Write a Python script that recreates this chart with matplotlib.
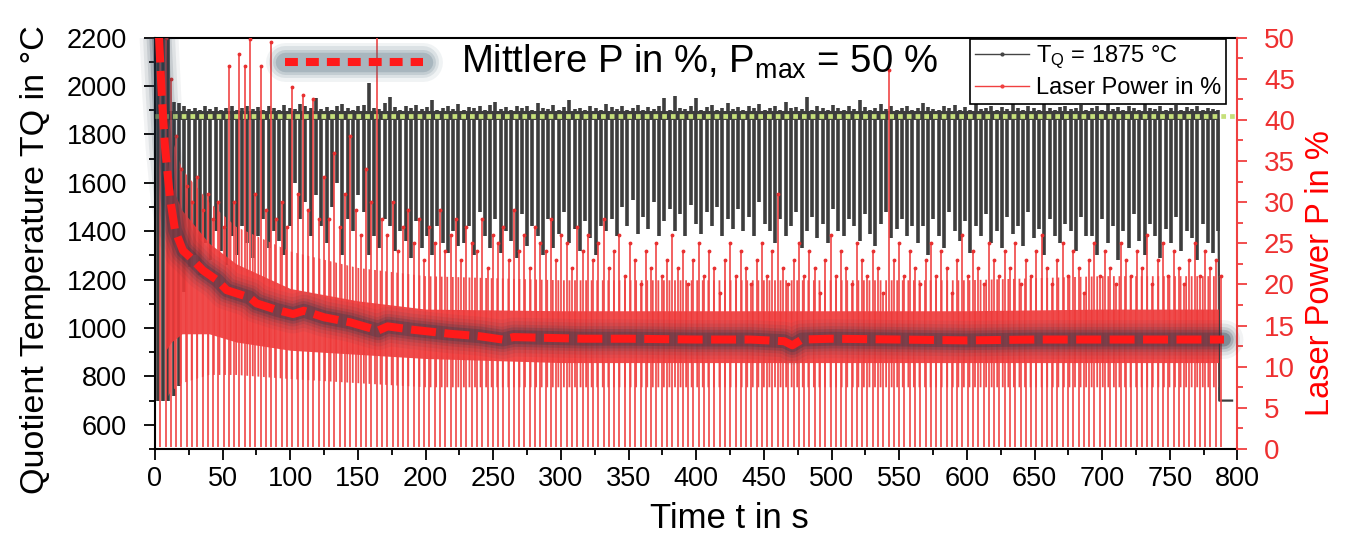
import numpy as np
import matplotlib
matplotlib.use('Agg')
import matplotlib.pyplot as plt
from matplotlib import rcParams
from matplotlib.lines import Line2D
from matplotlib.patches import Rectangle
from matplotlib.ticker import MultipleLocator

rcParams['font.family'] = ['Liberation Sans', 'DejaVu Sans']
rcParams['mathtext.fontset'] = 'custom'
rcParams['mathtext.rm'] = 'Liberation Sans'
rcParams['mathtext.it'] = 'Liberation Sans:italic'
rcParams['hatch.linewidth'] = 1.3

# controller cycle timing (s)
cycle_start = 2.0
cycle_period = 3.9

# per cycle: lowest / highest quotient temperature (degC)
T_trough = [
    700, 700, 700, 720, 760,
    1150, 1250, 1300, 1220, 1350, 1280, 1400, 1320, 1260, 1380, 1300, 1420, 1350, 1290, 1380, 1450,
    1330, 1400, 1360, 1300, 1420,
    1600, 1450, 1520, 1380, 1550, 1420, 1350, 1500, 1600, 1300, 1450, 1400, 1550, 1480, 1300, 1380,
    1330, 1450, 1420, 1320, 1400, 1360, 1290, 1440, 1330, 1380, 1300, 1420, 1350, 1310, 1400, 1340,
    1350, 1420, 1300, 1480, 1380, 1330, 1450, 1310, 1400, 1360, 1290, 1470, 1340, 1420, 1380, 1300,
    1450, 1330, 1390, 1480, 1350, 1410, 1320, 1440, 1370, 1300, 1420,
    1400, 1450, 1380, 1500, 1420, 1530, 1390, 1460, 1410, 1520, 1380, 1440, 1490, 1400, 1470, 1380,
    1510, 1430, 1390, 1480, 1420, 1500, 1380, 1450, 1410, 1490, 1400, 1460, 1380, 1520, 1430,
    1400, 1350, 1450, 1380, 1420, 1480, 1330, 1400, 1460, 1370, 1430, 1350, 1490, 1400, 1380, 1450,
    1420, 1360, 1470, 1390, 1340, 1430, 1480, 1370, 1410, 1450, 1380, 1420,
    1350, 1420, 1300, 1450, 1380, 1330, 1480, 1400, 1360, 1440, 1310, 1420, 1380, 1470, 1350, 1400,
    1330, 1460, 1390, 1420, 1340, 1480, 1370, 1410, 1300, 1450, 1380, 1350, 1430, 1400, 1320, 1460, 1380,
    1380, 1300, 1450, 1350, 1420, 1280, 1400, 1330, 1470, 1360, 1300, 1430, 1380, 1290, 1410, 1350,
    1460, 1320, 1400, 1370, 1280, 1430, 1350, 1310, 1400,
]
T_peak = [
    2300, 2300, 2300, 1935, 1930, 1915, 1905, 1910, 1900, 1915,
    1905, 1912, 1900, 1908, 1915, 1902, 1910, 1918, 1905, 1912,
    1900, 1915, 1908, 1902, 1920, 1910, 1905, 1925, 1915, 1908,
    1950, 1905, 1912, 1900, 1918, 1925, 1908, 1902, 1915, 1920,
    2010, 1910, 1905, 1930, 1955, 1912, 1900, 1915, 1908, 1920,
    1905, 1912, 1940, 1900, 1910, 1918, 1905, 1925, 1902, 1912,
    1908, 1915, 1900, 1920, 1935, 1905, 1912, 1900, 1918, 1908,
    1915, 1902, 1930, 1910, 1905, 1920, 1900, 1912, 1940, 1905,
    1910, 1902, 1918, 1908, 1900, 1925, 1912, 1905, 1915, 1900,
    1908, 1920, 1902, 1912, 1905, 1918, 1950, 1900, 1960, 1910,
    1905, 1915, 1950, 1902, 1912, 1920, 1900, 1908, 1930, 1905,
    1912, 1900, 1918, 1908, 1925, 1902, 1910, 1915, 1900, 1935,
    1908, 1912, 1905, 1955, 1900, 1918, 1910, 1902, 1920, 1908,
    1900, 1915, 1905, 1940, 1912, 1900, 1908, 1925, 1905, 1915,
    1902, 1910, 1918, 1900, 1908, 1930, 1912, 1905, 1900, 1915,
    1908, 1920, 1902, 1912, 1900, 1935, 1905, 1910, 1918, 1900,
    1912, 1905, 1925, 1908, 1900, 1915, 1910, 1902, 1940, 1908,
    1900, 1912, 1918, 1905, 1910, 1920, 1902, 1908, 1915, 1900,
    1930, 1905, 1912, 1900, 1918, 1908, 1902, 1925, 1910, 1905,
    1915, 1900, 1908, 1920, 1902, 1912, 1905, 1918, 1900, 1910,
    1905, 1900,
]
# per cycle: highest laser power (%)
P_top = [
    50, 50, 45, 38, 34, 32, 30, 33, 29, 31,
    28, 30, 27, 46.5, 30, 48, 46.5, 49.8, 31, 46.5,
    29, 49.4, 28, 30, 27, 44, 31, 43, 29, 42.5,
    28, 33, 28, 36, 27, 31, 38, 29, 26, 34,
    30, 51, 28, 26, 30, 24, 27, 29, 25, 28,
    23, 27, 25, 29, 24, 26, 28, 23, 27, 25,
    24, 28, 22, 26, 25, 27, 23, 29, 24, 26,
    22, 27, 25, 24, 28, 23, 26, 25, 22, 27,
    24, 26, 23, 25, 28, 22, 24, 26, 21, 25,
    23, 20, 24, 22, 25, 21, 23, 26, 22, 24,
    20, 23, 25, 21, 24, 22, 19, 23, 25, 21,
    24, 22, 20, 23, 25, 21, 24, 31, 22, 20,
    23, 25, 21, 24, 22, 19, 23, 26, 21, 24,
    22, 20, 25, 23, 21, 24, 22, 19, 46, 23,
    25, 21, 24, 22, 20, 23, 25, 21, 24, 22,
    19, 23, 26, 21, 24, 22, 20, 25, 23, 21,
    24, 22, 25, 20, 23, 21, 24, 26, 22, 20,
    23, 25, 21, 24, 22, 19, 23, 25, 21, 24,
    22, 20, 25, 23, 21, 24, 22, 26, 20, 23,
    25, 21, 24, 22, 20, 23, 25, 21, 24, 22,
    23, 21,
]
P_floor = 0.3

# hold band at the setpoint, setpoint, and the cool-down after the last cycle
T_hold = (1860, 1898)
T_set = 1875
t_end = [786.5, 796]
T_end = [700, 700]

# running mean of the laser power (%)
t_mean = [3, 5, 7.4, 11, 14.8, 20.7, 26, 35.5, 46, 53,
          70, 75, 90, 102, 110, 125, 144, 165, 172, 190,
          218, 240, 257, 265, 316, 350, 400, 440, 465, 471,
          478, 500, 550, 600, 650, 700, 750, 790]
P_mean = [50, 43, 36.7, 30.6, 26.6, 24.1, 23.3, 21.7, 20.5, 19.3,
          18.4, 17.7, 16.9, 16.4, 16.8, 16.0, 15.4, 14.4, 14.9, 14.5,
          14.0, 13.7, 13.3, 13.6, 13.4, 13.4, 13.3, 13.3, 13.1, 12.6,
          13.3, 13.4, 13.3, 13.2, 13.3, 13.3, 13.3, 13.3]

# dense part of the laser power signal (%), core and fringe
t_band = [8, 12, 20, 40, 60, 100, 150, 200, 300, 400, 500, 600, 700, 786]
P_band_hi = [36, 32, 29, 25, 22.5, 19.5, 18, 17, 16.8, 16.8, 16.8, 16.8, 17, 17]
P_band_lo = [12, 13, 14, 14, 13, 12, 11.5, 11, 10.5, 10.5, 10.5, 10.5, 10.5, 10.5]
P_fringe_hi = [42, 38, 34, 30, 27, 24, 22, 21, 20.5, 20.5, 20.5, 20.5, 21, 21]
P_fringe_lo = [6, 7, 8, 9, 9, 8.5, 8, 7.5, 7.5, 7.5, 7.5, 7.5, 7.5, 7.5]

black_c = '#3d3d3d'
red_c = '#f04545'
glow_c = '#2a3a4c'

fig = plt.figure(figsize=(13.72, 5.37), dpi=100)
ax = fig.add_axes([0.11297, 0.16387, 0.78899, 0.76629])
ax2 = ax.twinx()

n = min(len(T_trough), len(T_peak), len(P_top))
t_cyc = cycle_start + cycle_period * np.arange(n)
t_red = t_cyc + cycle_period / 2

# temperature
ax.fill_between(t_cyc, T_hold[0], T_hold[1], color=black_c, lw=0, zorder=2)
ax.vlines(t_cyc, T_trough[:n], T_peak[:n], color=black_c, lw=2.6, zorder=2)
ax.plot(np.r_[t_cyc[-1], t_end], np.r_[T_hold[0], T_end], color=black_c, lw=1.6, zorder=2)
ax.axhline(T_set, color='#c6e07a', lw=3.4, dashes=(1, 0.85), zorder=3)

# laser power
ax2.vlines(t_red, P_floor, P_top[:n], color=red_c, lw=1.2, zorder=2)
ax2.plot(t_red, P_top[:n], '.', ms=3.5, color='#e83030', zorder=2)
ax2.fill_between(t_band, P_fringe_lo, P_fringe_hi, facecolor='none', edgecolor='#f05050',
                 hatch='|||', lw=0, zorder=1)
ax2.fill_between(t_band, P_band_lo, P_band_hi, color='#ee3838', alpha=0.9, lw=0, zorder=1)

# mean power with glow, allowed to spill sideways past the spines but not over the top
side_clip = Rectangle((-0.04, 0), 1.08, 1.0, transform=ax2.transAxes, visible=False)
ax2.add_patch(side_clip)
mean_lines = []
for w, a in [(28, 0.06), (23, 0.09), (18, 0.13), (14, 0.2), (10, 0.3)]:
    mean_lines += ax2.plot(t_mean, P_mean, color=glow_c, lw=w, alpha=a, solid_capstyle='round',
                           solid_joinstyle='round', zorder=4)
mean_lines += ax2.plot(t_mean, P_mean, color='#ff1a1a', lw=5.8, dashes=(3.1, 1.05), zorder=5)
for ln in mean_lines:
    ln.set_clip_path(side_clip)

# key for the mean line
kx = [0.120, 0.2476]
ky = [0.9405, 0.9405]
for w, a in [(28, 0.08), (23, 0.12), (18, 0.16), (14, 0.22)]:
    ax2.plot(kx, ky, color='#4a6678', lw=w, alpha=a, solid_capstyle='round',
             transform=ax2.transAxes, zorder=6)
ax2.plot(kx, ky, color='#ff1a1a', lw=5.8, dashes=(1.6, 1.0), transform=ax2.transAxes, zorder=7)
ax2.text(0.2827, 0.9147, 'Mittlere P in %, P$_{\\mathrm{max}}$ = 50 %', fontsize=27.5,
         ha='left', va='baseline', transform=ax2.transAxes, zorder=7)

handles = [Line2D([], [], color='#444444', lw=1, marker='.', ms=4),
           Line2D([], [], color='#f04040', lw=1, marker='.', ms=4)]
leg = ax2.legend(handles, ['T$_\\mathrm{Q}$ = 1875 °C', 'Laser Power in %'],
                 loc='upper right', bbox_to_anchor=(0.9894, 0.9956), borderaxespad=0,
                 fontsize=17, frameon=True, fancybox=False, framealpha=1,
                 edgecolor='black', handlelength=2.3, handletextpad=0.3,
                 borderpad=0.2, labelspacing=0.25)
leg.get_frame().set_linewidth(1.2)
leg.set_zorder(10)

# axes
ax.set_xlim(0, 800)
ax.set_ylim(500, 2200)
ax2.set_ylim(0, 50)
ax.xaxis.set_major_locator(MultipleLocator(50))
ax.xaxis.set_minor_locator(MultipleLocator(25))
ax.yaxis.set_major_locator(MultipleLocator(200))
ax.yaxis.set_minor_locator(MultipleLocator(100))
ax2.yaxis.set_major_locator(MultipleLocator(5))
ax2.yaxis.set_minor_locator(MultipleLocator(2.5))
ax.set_yticks(range(600, 2201, 200))

ax.tick_params(axis='both', which='major', direction='out', length=8, width=1.3, labelsize=19.5, pad=4)
ax.tick_params(axis='both', which='minor', direction='out', length=4.5, width=1.3)
ax.tick_params(axis='y', which='major', pad=12)
ax2.tick_params(axis='y', which='major', direction='out', length=7, width=1.3, labelsize=20,
                colors='#f04040', labelcolor='#ee3030', pad=12)
ax2.tick_params(axis='y', which='minor', direction='out', length=4.5, width=1.3, colors='#f04040')

for s in ['left', 'bottom', 'top']:
    ax.spines[s].set_linewidth(1.5)
ax.spines['right'].set_visible(False)
for s in ['left', 'bottom', 'top']:
    ax2.spines[s].set_visible(False)
ax2.spines['right'].set_color('#f04040')
ax2.spines['right'].set_linewidth(1.5)

ax.set_ylabel('Quotient Temperature TQ in °C', fontsize=24.5)
ax.yaxis.set_label_coords(-0.0965, 0.46)
ax2.set_ylabel('Laser Power P in %', fontsize=23.5, color='#ff0000')
ax2.yaxis.set_label_coords(1.062, 0.428)
ax.set_xlabel('Time t in s', fontsize=25)
ax.xaxis.set_label_coords(0.531, -0.128)

fig.savefig('out.png', dpi=100)
